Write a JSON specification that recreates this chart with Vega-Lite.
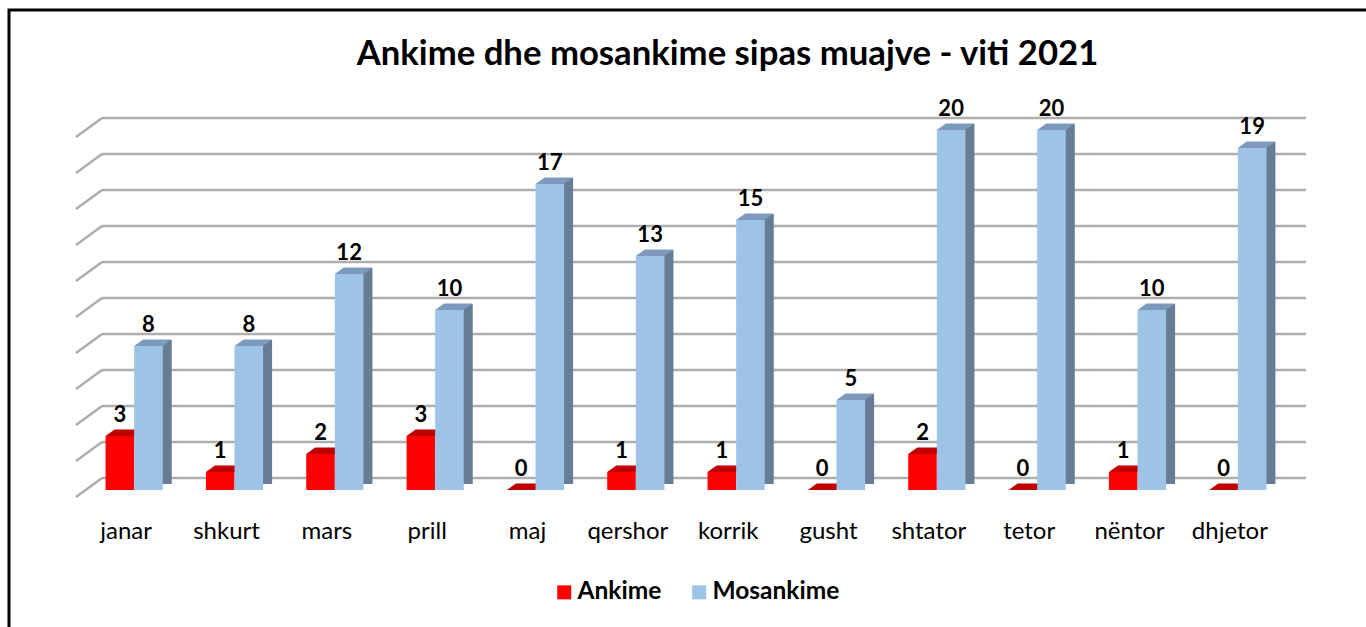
{
  "$schema": "https://vega.github.io/schema/vega-lite/v6.json",
  "width": 1377,
  "height": 637,
  "autosize": {"type": "none"},
  "padding": {"left": 9, "top": 10, "right": -20, "bottom": -20},
  "background": "white",
  "config": {
    "view": {"stroke": "#000000", "strokeWidth": 3},
    "font": "Lato"
  },
  "title": {
    "text": "Ankime dhe mosankime sipas muajve - viti 2021",
    "font": "Lato",
    "fontSize": 34.7,
    "fontWeight": "bold",
    "color": "#000000",
    "anchor": "middle",
    "frame": "group",
    "baseline": "alphabetic",
    "offset": 0,
    "dy": 90,
    "dx": 30
  },
  "data": {
    "values": [
      {"m": "janar", "s": "Ankime", "v": 3},
      {"m": "janar", "s": "Mosankime", "v": 8},
      {"m": "shkurt", "s": "Ankime", "v": 1},
      {"m": "shkurt", "s": "Mosankime", "v": 8},
      {"m": "mars", "s": "Ankime", "v": 2},
      {"m": "mars", "s": "Mosankime", "v": 12},
      {"m": "prill", "s": "Ankime", "v": 3},
      {"m": "prill", "s": "Mosankime", "v": 10},
      {"m": "maj", "s": "Ankime", "v": 0},
      {"m": "maj", "s": "Mosankime", "v": 17},
      {"m": "qershor", "s": "Ankime", "v": 1},
      {"m": "qershor", "s": "Mosankime", "v": 13},
      {"m": "korrik", "s": "Ankime", "v": 1},
      {"m": "korrik", "s": "Mosankime", "v": 15},
      {"m": "gusht", "s": "Ankime", "v": 0},
      {"m": "gusht", "s": "Mosankime", "v": 5},
      {"m": "shtator", "s": "Ankime", "v": 2},
      {"m": "shtator", "s": "Mosankime", "v": 20},
      {"m": "tetor", "s": "Ankime", "v": 0},
      {"m": "tetor", "s": "Mosankime", "v": 20},
      {"m": "nëntor", "s": "Ankime", "v": 1},
      {"m": "nëntor", "s": "Mosankime", "v": 10},
      {"m": "dhjetor", "s": "Ankime", "v": 0},
      {"m": "dhjetor", "s": "Mosankime", "v": 19}
    ]
  },
  "encoding": {
    "x": {
      "field": "m",
      "type": "nominal",
      "sort": null,
      "scale": {
        "domain": ["janar", "shkurt", "mars", "prill", "maj", "qershor", "korrik", "gusht", "shtator", "tetor", "nëntor", "dhjetor"],
        "range": [75, 1279],
        "paddingInner": 0,
        "paddingOuter": 0
      },
      "axis": {
        "title": null,
        "orient": "bottom",
        "offset": -157,
        "domain": false,
        "ticks": false,
        "tickSize": 0,
        "grid": false,
        "labelAngle": 0,
        "labelFont": "Lato",
        "labelFontSize": 24,
        "labelColor": "#000000",
        "labelBaseline": "alphabetic",
        "labelPadding": 48,
        "labelOffset": -8
      }
    },
    "xOffset": {
      "field": "s",
      "type": "nominal",
      "scale": {"domain": ["Ankime", "Mosankime"], "paddingInner": 0, "paddingOuter": 0.754}
    },
    "y": {
      "field": "v",
      "type": "quantitative",
      "scale": {"domain": [0, 20], "range": [468, 108], "nice": false, "zero": true},
      "axis": null
    }
  },
  "layer": [
    {
      "data": {"values": [{"g": 0}, {"g": 2}, {"g": 4}, {"g": 6}, {"g": 8}, {"g": 10}, {"g": 12}, {"g": 14}, {"g": 16}, {"g": 18}, {"g": 20}]},
      "mark": {"type": "rule", "color": "#aeaeae", "strokeWidth": 2.5, "xOffset": 18, "x2Offset": 18},
      "encoding": {
        "x": {"datum": "janar", "bandPosition": 0},
        "x2": {"datum": "dhjetor", "bandPosition": 1},
        "y": {"field": "g", "type": "quantitative"},
        "xOffset": null
      }
    },
    {
      "data": {"values": [{"g": 0}, {"g": 2}, {"g": 4}, {"g": 6}, {"g": 8}, {"g": 10}, {"g": 12}, {"g": 14}, {"g": 16}, {"g": 18}, {"g": 20}]},
      "mark": {"type": "rule", "color": "#aeaeae", "strokeWidth": 2.5, "xOffset": 18, "x2Offset": -8, "y2Offset": 19},
      "encoding": {
        "x": {"datum": "janar", "bandPosition": 0},
        "x2": {"datum": "janar", "bandPosition": 0},
        "y": {"field": "g", "type": "quantitative"},
        "y2": {"field": "g"},
        "xOffset": null
      }
    },
    {
      "transform": [{"filter": "datum.s === 'Mosankime'"}],
      "mark": {"type": "bar", "color": "#677d96", "width": 28.6, "xOffset": 23.3, "yOffset": 6, "y2Offset": 12},
      "encoding": {"xOffset": null}
    },
    {
      "transform": [{"filter": "datum.s === 'Mosankime'"}],
      "mark": {"type": "point", "filled": true, "color": "#ffffff", "opacity": 1, "strokeWidth": 0, "size": 4, "yOffset": 12,
               "shape": "M 14.3 0 L 23.5 -6.2 L 23.5 1 L 14.3 1 Z"},
      "encoding": {"y": {"datum": 0, "type": "quantitative"}}
    },
    {
      "transform": [{"filter": "datum.s === 'Ankime'"}],
      "mark": {"type": "point", "filled": true, "color": "#c00000", "opacity": 1, "strokeWidth": 0, "size": 4, "yOffset": 12,
               "shape": "M -14.3 0 L 14.3 0 L 23.3 -6.5 L -5.3 -6.5 Z"}
    },
    {
      "transform": [{"filter": "datum.s === 'Mosankime'"}],
      "mark": {"type": "point", "filled": true, "color": "#7d9abd", "opacity": 1, "strokeWidth": 0, "size": 4, "yOffset": 12,
               "shape": "M -14.3 0 L 14.3 0 L 23.3 -6.5 L -5.3 -6.5 Z"}
    },
    {
      "mark": {"type": "bar", "yOffset": 12, "y2Offset": 12},
      "encoding": {
        "color": {
          "field": "s",
          "type": "nominal",
          "scale": {"domain": ["Ankime", "Mosankime"], "range": ["#ff0000", "#9dc3e6"]},
          "legend": {
            "title": null,
            "orient": "none",
            "legendX": 543,
            "legendY": 570,
            "direction": "horizontal",
            "symbolType": "square",
            "symbolSize": 196,
            "symbolStrokeWidth": 0,
            "symbolOpacity": 1,
            "labelFont": "Lato",
            "labelFontSize": 24.5,
            "labelFontWeight": "bold",
            "labelColor": "#000000",
            "labelOffset": 1,
            "columnPadding": 25,
            "padding": 0
          }
        }
      }
    },
    {
      "mark": {"type": "text", "yOffset": -2, "baseline": "alphabetic", "align": "center", "font": "Lato", "fontSize": 22, "fontWeight": "bold", "color": "#000000"},
      "encoding": {"text": {"field": "v", "type": "quantitative"}}
    }
  ]
}
